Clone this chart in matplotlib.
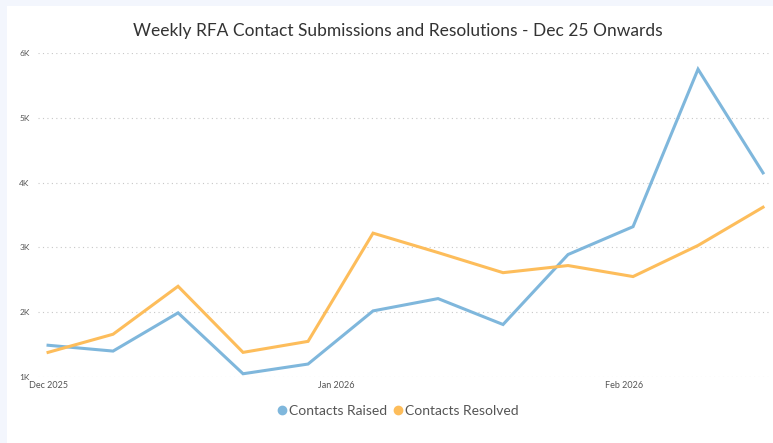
import matplotlib
matplotlib.use("Agg")
import matplotlib.pyplot as plt
import matplotlib.dates as mdates
from matplotlib.patches import Rectangle
from matplotlib.lines import Line2D
import pandas as pd

# Weekly data from 1 Dec 2025
weeks = pd.date_range("2025-12-01", periods=12, freq="7D")
contacts_raised = [1490, 1400, 1990, 1050, 1200, 2020, 2210, 1810, 2890, 3320, 5750, 4150]
contacts_resolved = [1380, 1660, 2400, 1380, 1550, 3220, 2920, 2610, 2720, 2550, 3030, 3620]

y_ticks = [1000, 2000, 3000, 4000, 5000, 6000]
y_labels = ["1K", "2K", "3K", "4K", "5K", "6K"]

BLUE = "#7fb7dc"
ORANGE = "#fdbd5b"
TXT = "#555555"
FONT = ["Lato", "DejaVu Sans"]

W, H = 773, 443
fig = plt.figure(figsize=(W / 100, H / 100), dpi=100)
fig.patch.set_facecolor("#f3f6fd")
card = Rectangle((7 / W, 0), 1, 1 - 6 / H, transform=fig.transFigure,
                 facecolor="white", edgecolor="none", zorder=-10)
fig.add_artist(card)

ax = fig.add_axes([38 / W, 1 - 377 / H, (770 - 38) / W, (377 - 53) / H])
ax.set_zorder(1)
ax.set_facecolor("none")

ax.plot(weeks, contacts_raised, color=BLUE, lw=2.2, solid_joinstyle="miter", zorder=3)
ax.plot(weeks, contacts_resolved, color=ORANGE, lw=2.2, solid_joinstyle="miter", zorder=3)

ax.set_ylim(1000, 6000)
ax.set_xlim(weeks[0] - pd.Timedelta(hours=26), weeks[-1] + pd.Timedelta(hours=18))
ax.set_yticks(y_ticks)
ax.set_yticklabels(y_labels, family=FONT, fontsize=6, color=TXT)
ax.grid(axis="y", linestyle=(0, (1, 3)), color="#c8c8c8", lw=0.8)
ax.set_axisbelow(True)

ax.xaxis.set_major_locator(mdates.MonthLocator())
ax.xaxis.set_major_formatter(mdates.DateFormatter("%b %Y"))
for lbl in ax.get_xticklabels():
    lbl.set_family(FONT)
    lbl.set_fontsize(6.5)
    lbl.set_color(TXT)
ax.tick_params(axis="x", length=0, pad=3)
ax.tick_params(axis="y", length=0, pad=6)
for s in ax.spines.values():
    s.set_visible(False)

fig.text(398 / W, 1 - 31 / H, "Weekly RFA Contact Submissions and Resolutions - Dec 25 Onwards",
         ha="center", va="center", fontsize=12.5, color="#333333", family=FONT)

handles = [Line2D([], [], ls="none", marker="o", ms=6, color=BLUE),
           Line2D([], [], ls="none", marker="o", ms=6, color=ORANGE)]
leg = fig.legend(handles, ["Contacts Raised", "Contacts Resolved"], loc="center",
                 bbox_to_anchor=(397 / W, 1 - 411 / H), ncol=2, frameon=False,
                 handletextpad=0.0, columnspacing=0.3, handlelength=1.0,
                 prop={"family": FONT, "size": 10})
for t in leg.get_texts():
    t.set_color(TXT)

fig.savefig("out.png", dpi=100, facecolor=fig.get_facecolor())
